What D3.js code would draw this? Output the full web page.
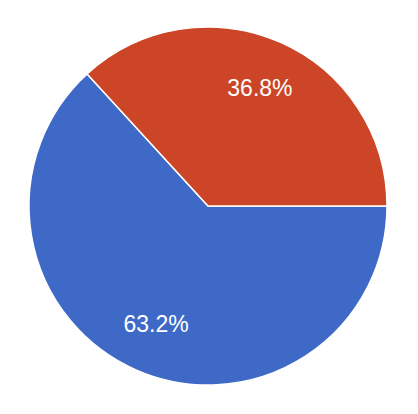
<!DOCTYPE html>
<html>
<head>
<meta charset="utf-8">
<script src="https://cdn.jsdelivr.net/npm/d3@7"></script>
<style>
  body { margin: 0; background: #fff; }
  svg { display: block; }
</style>
</head>
<body>
<div id="chart"></div>
<script>
// slice data (blue first, going clockwise from 3 o'clock)
var categories = ["A", "B"];
var shares = [63.2, 36.8];
var sliceColors = ["#3e69c7", "#cb4526"];

var width = 418, height = 414;
var cx = 208, cy = 206, radius = 179;

var svg = d3.select("#chart").append("svg")
    .attr("width", width)
    .attr("height", height);

var data = categories.map(function(c, i) { return {cat: c, value: shares[i]}; });

var pie = d3.pie()
    .sort(null)
    .value(function(d) { return d.value; })
    .startAngle(Math.PI / 2)
    .endAngle(Math.PI / 2 + 2 * Math.PI);

var arc = d3.arc().innerRadius(0).outerRadius(radius);
var labelArc = d3.arc().innerRadius(radius * 0.72).outerRadius(radius * 0.72);

var color = d3.scaleOrdinal().domain(categories).range(sliceColors);

var g = svg.append("g")
    .attr("transform", "translate(" + cx + "," + cy + ")");

var arcs = pie(data);

g.selectAll("path.slice")
    .data(arcs)
    .enter().append("path")
    .attr("class", "slice")
    .attr("d", arc)
    .attr("fill", function(d) { return color(d.data.cat); })
    .attr("stroke", "#fff")
    .attr("stroke-width", 1.5)
    .attr("stroke-linejoin", "round");

g.selectAll("text.lbl")
    .data(arcs)
    .enter().append("text")
    .attr("class", "lbl")
    .attr("transform", function(d) { return "translate(" + labelArc.centroid(d) + ")"; })
    .attr("text-anchor", "middle")
    .attr("dy", "0.35em")
    .attr("fill", "#fff")
    .style("font-family", "Arial, 'Liberation Sans', sans-serif")
    .style("font-size", "23px")
    .text(function(d) { return d.data.value.toFixed(1) + "%"; });
</script>
</body>
</html>
